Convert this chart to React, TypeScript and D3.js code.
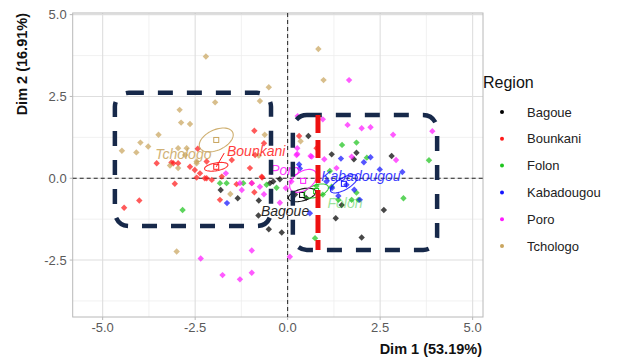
import React from "react";
import * as d3 from "d3";

const regions = ["Bagoue", "Bounkani", "Folon", "Kabadougou", "Poro", "Tchologo"];
const regionColors = ["#000000", "#ff1a1a", "#1fc41f", "#1414ff", "#ff1aff", "#c9a55e"];

const bagoue: [number, number][] = [
  [0.56, 1.29], [1.19, 0.73], [1.86, 0.78], [1.79, 0.58], [2.81, 0.68], [2.6, -0.97], [1.3, -1.22],
  [2.0, -1.81], [1.46, -0.82], [-1.81, -0.36], [-1.35, -0.61], [-0.78, -0.68], [-0.79, -1.14],
  [-0.51, -1.56], [-0.16, -1.66], [-0.48, -0.15], [-0.39, -0.1], [-0.21, -0.03], [0.2, -0.5], [0.5, -0.6],
];
const bounkani: [number, number][] = [
  [-0.9, 1.45], [-0.64, 1.07], [-0.88, 0.71], [-1.51, 0.56], [-3.54, 0.46], [-3.14, 0.48], [-2.96, 0.46],
  [-2.64, 0.35], [-2.51, 0.25], [-2.37, 0.15], [-2.24, 0.0], [-2.05, -0.05], [-1.78, 0.05], [-1.02, 0.31],
  [-0.7, 0.05], [-3.05, -0.17], [-1.83, -0.66], [-3.09, 0.46], [-2.43, 0.9], [-2.19, 0.51], [0.31, 1.29],
  [-4.42, -0.9], [-4.01, -0.68], [-1.38, -0.18], [-0.97, -0.15], [-0.9, -0.43], [-0.69, 0.02],
  [-2.46, 0.02], [-2.19, 0.0], [0.78, 0.92],
];
const folon: [number, number][] = [
  [1.47, 1.02], [1.86, 1.09], [2.14, 0.63], [3.82, 0.55], [1.14, 0.22], [3.13, -0.61], [0.74, -1.83],
  [1.19, -0.26], [1.37, -0.66], [1.73, -0.66], [1.91, -0.66], [1.86, -0.44], [0.78, -0.24], [-1.83, -0.15],
  [-1.65, -0.15], [-1.2, -0.15], [-0.57, -0.2], [-0.3, -0.29], [-2.84, -0.97], [0.95, -0.5],
];
const kabadougou: [number, number][] = [
  [0.31, 0.42], [2.06, 0.49], [2.24, 0.64], [2.49, 0.27], [3.1, 0.19], [0.33, 0.3], [1.05, -0.1],
  [1.59, -0.2], [1.95, -0.66], [0.6, -1.07], [-1.64, -0.76], [1.37, -0.54], [1.44, 0.6], [1.2, -0.3], [1.8, -0.35],
];
const poro: [number, number][] = [
  [1.66, 3.0], [0.27, 1.9], [0.95, 1.8], [1.62, 1.63], [2.0, 1.53], [2.24, 1.56], [2.85, 1.33], [3.91, 1.44],
  [0.26, 0.92], [0.26, 0.74], [0.62, 0.68], [0.99, 0.58], [2.93, 0.56], [-1.67, 0.15], [-1.29, -0.15],
  [-1.24, -0.36], [-0.97, -0.15], [-0.75, -0.26], [-0.21, -0.75], [-0.64, -0.49], [0.24, 0.71], [0.06, -2.4],
  [-0.97, -2.21], [-2.35, -2.45], [-1.76, -2.96], [-1.29, -3.09], [-0.97, -2.89], [1.32, 0.31], [0.65, 0.66],
  [1.73, 0.66], [-0.05, -0.3], [0.1, -0.1],
];
const tchologo: [number, number][] = [
  [-2.21, 3.72], [-0.51, 2.78], [-1.96, 2.32], [-0.75, 2.36], [-2.92, 2.09], [-2.88, 1.7], [-2.64, 1.66],
  [-3.49, 1.33], [-3.98, 1.09], [-3.77, 0.97], [-4.48, 0.84], [-4.09, 0.79], [-2.96, 0.92], [-2.73, 0.92],
  [-3.18, 0.39], [-2.46, 0.51], [-0.62, 1.33], [-0.78, 0.69], [0.35, 1.13], [0.83, 3.95], [0.97, 3.0],
  [-3.0, -2.24], [-1.55, -0.48], [-2.46, 0.46], [-2.96, 0.31], [-2.77, 0.71],
];
const regionPoints = [bagoue, bounkani, folon, kabadougou, poro, tchologo];

// ellipse: center x, center y, semi-axis x, semi-axis y (data units), rotation (deg)
const ellipseCx = [0.39, -1.93, 0.77, 1.52, 0.42, -1.93];
const ellipseCy = [-0.51, 0.35, -0.39, -0.17, -0.08, 1.17];
const ellipseA = [0.38, 0.32, 0.35, 0.41, 0.41, 0.49];
const ellipseB = [0.18, 0.12, 0.18, 0.18, 0.28, 0.31];
const ellipseRot = [-15, -10, -20, -30, -35, -25];
// label positions (data units)
const labelX = [-0.07, -0.85, 1.55, 1.98, -0.07, -2.82];
const labelY = [-1.0, 0.83, -0.76, 0.07, 0.25, 0.74];
const labelOpacity = [0.85, 0.85, 0.45, 0.85, 0.85, 0.85];

const xMajor = [-5, -2.5, 0, 2.5, 5];
const xMinor = [-3.75, -1.25, 1.25, 3.75];
const yMajor = [-2.5, 0, 2.5, 5];
const yMinor = [-3.75, -1.25, 1.25, 3.75];

// annotation boxes (data units): x0, x1, y0, y1
const boxX0 = [-4.67, 0.14];
const boxX1 = [-0.45, 4.04];
const boxY0 = [-1.46, -2.19];
const boxY1 = [2.61, 1.93];
const redLineX = 0.82;
const redLineY = [-2.19, 1.93];

const W = 622, H = 360;
const P = { l: 72.7, r: 483, t: 13, b: 317 };

export default function App() {
  const x = d3.scaleLinear().domain([-5.81, 5.28]).range([P.l, P.r]);
  const y = d3.scaleLinear().domain([-4.24, 5.05]).range([P.b, P.t]);
  const f1 = d3.format(".1f");
  const fmt = (v: number) => f1(v).replace("\u2212", "-");
  const font = "'Liberation Sans', Arial, sans-serif";

  const ellipsePath = (i: number) => {
    const cx = x(ellipseCx[i]), cy = y(ellipseCy[i]);
    const a = x(ellipseA[i]) - x(0), b = y(0) - y(ellipseB[i]);
    const th = (ellipseRot[i] * Math.PI) / 180;
    const pts: [number, number][] = d3.range(0, 361, 6).map((deg) => {
      const t = (deg * Math.PI) / 180;
      const ex = a * Math.cos(t), ey = b * Math.sin(t);
      return [cx + ex * Math.cos(th) - ey * Math.sin(th), cy + ex * Math.sin(th) + ey * Math.cos(th)];
    });
    return d3.line()(pts) || "";
  };

  const diamond = (px: number, py: number, r = 3.2) =>
    `M${px},${py - r}L${px + r},${py}L${px},${py + r}L${px - r},${py}Z`;

  return (
    <svg width={W} height={H} style={{ position: "absolute", left: 0, top: 0, background: "#fff" }}>
      <rect x={0} y={0} width={W} height={H} fill="#fff" />
      {/* grid */}
      {xMinor.map((v) => (
        <line key={"xm" + v} x1={x(v)} x2={x(v)} y1={P.t} y2={P.b} stroke="#ededed" strokeWidth={0.8} />
      ))}
      {yMinor.map((v) => (
        <line key={"ym" + v} x1={P.l} x2={P.r} y1={y(v)} y2={y(v)} stroke="#ededed" strokeWidth={0.8} />
      ))}
      {xMajor.map((v) => (
        <line key={"xM" + v} x1={x(v)} x2={x(v)} y1={P.t} y2={P.b} stroke="#dedede" strokeWidth={1.1} />
      ))}
      {yMajor.map((v) => (
        <line key={"yM" + v} x1={P.l} x2={P.r} y1={y(v)} y2={y(v)} stroke="#dedede" strokeWidth={1.1} />
      ))}
      <rect x={P.l} y={P.t} width={P.r - P.l} height={P.b - P.t} fill="none" stroke="#b8b8b8" strokeWidth={1} />
      {/* zero lines */}
      <line x1={x(0)} x2={x(0)} y1={P.t} y2={P.b} stroke="#222" strokeWidth={1} strokeDasharray="4,3" />
      <line x1={P.l} x2={P.r} y1={y(0)} y2={y(0)} stroke="#222" strokeWidth={1} strokeDasharray="4,3" />

      {/* points */}
      {regionPoints.map((pts, gi) =>
        pts.map((p, k) => (
          <path key={gi + "-" + k} d={diamond(x(p[0]), y(p[1]))} fill={regionColors[gi]} opacity={0.72} />
        ))
      )}

      {/* ellipses & centroids */}
      {regions.map((r, i) => (
        <g key={"el" + r}>
          <path d={ellipsePath(i)} fill="none" stroke={regionColors[i]} strokeWidth={1.1} opacity={0.9} />
          <rect x={x(ellipseCx[i]) - 2.5} y={y(ellipseCy[i]) - 2.5} width={5} height={5} fill="none"
            stroke={regionColors[i]} strokeWidth={1} />
        </g>
      ))}
      <line x1={x(ellipseCx[1])} y1={y(ellipseCy[1])} x2={x(labelX[1]) - 32} y2={y(labelY[1]) + 2}
        stroke={regionColors[1]} strokeWidth={1} />
      {regions.map((r, i) => (
        <text key={"lb" + r} x={x(labelX[i])} y={y(labelY[i])} textAnchor="middle" dominantBaseline="central"
          fontFamily={font} fontSize={14} fontStyle="italic" fill={regionColors[i]} opacity={labelOpacity[i]}>
          {r}
        </text>
      ))}

      {/* annotation boxes */}
      {boxX0.map((_, i) => (
        <rect key={"bx" + i} x={x(boxX0[i])} y={y(boxY1[i])} width={x(boxX1[i]) - x(boxX0[i])}
          height={y(boxY0[i]) - y(boxY1[i])} rx={14} ry={14} fill="none" stroke="#17294a"
          strokeWidth={4.5} strokeDasharray="15,14" />
      ))}
      <line x1={x(redLineX)} x2={x(redLineX)} y1={y(redLineY[1])} y2={y(redLineY[0])} stroke="#ee1111"
        strokeWidth={5} strokeDasharray="18,7" />

      {/* axes ticks and labels */}
      {xMajor.map((v) => (
        <g key={"xt" + v}>
          <line x1={x(v)} x2={x(v)} y1={P.b} y2={P.b + 3} stroke="#b8b8b8" />
          <text x={x(v)} y={P.b + 15} textAnchor="middle" fontFamily={font} fontSize={13} fill="#5a5a5a">
            {fmt(v)}
          </text>
        </g>
      ))}
      {yMajor.map((v) => (
        <g key={"yt" + v}>
          <line x1={P.l - 3} x2={P.l} y1={y(v)} y2={y(v)} stroke="#b8b8b8" />
          <text x={P.l - 6} y={y(v)} textAnchor="end" dominantBaseline="central" fontFamily={font}
            fontSize={13} fill="#5a5a5a">
            {fmt(v)}
          </text>
        </g>
      ))}
      <text x={P.r - 1} y={354} textAnchor="end" fontFamily={font} fontSize={14.5} fontWeight="bold" fill="#111">
        Dim 1 (53.19%)
      </text>
      <text transform={`translate(27,${P.t}) rotate(-90)`} textAnchor="end" fontFamily={font} fontSize={14.5}
        fontWeight="bold" fill="#111">
        Dim 2 (16.91%)
      </text>

      {/* legend */}
      <text x={483} y={88} fontFamily={font} fontSize={16} fill="#111">Region</text>
      {regions.map((r, i) => (
        <g key={"lg" + r}>
          <circle cx={502} cy={112 + i * 26.8} r={2} fill={regionColors[i]} />
          <text x={527} y={112 + i * 26.8} dominantBaseline="central" fontFamily={font} fontSize={13} fill="#222">
            {r}
          </text>
        </g>
      ))}
    </svg>
  );
}
